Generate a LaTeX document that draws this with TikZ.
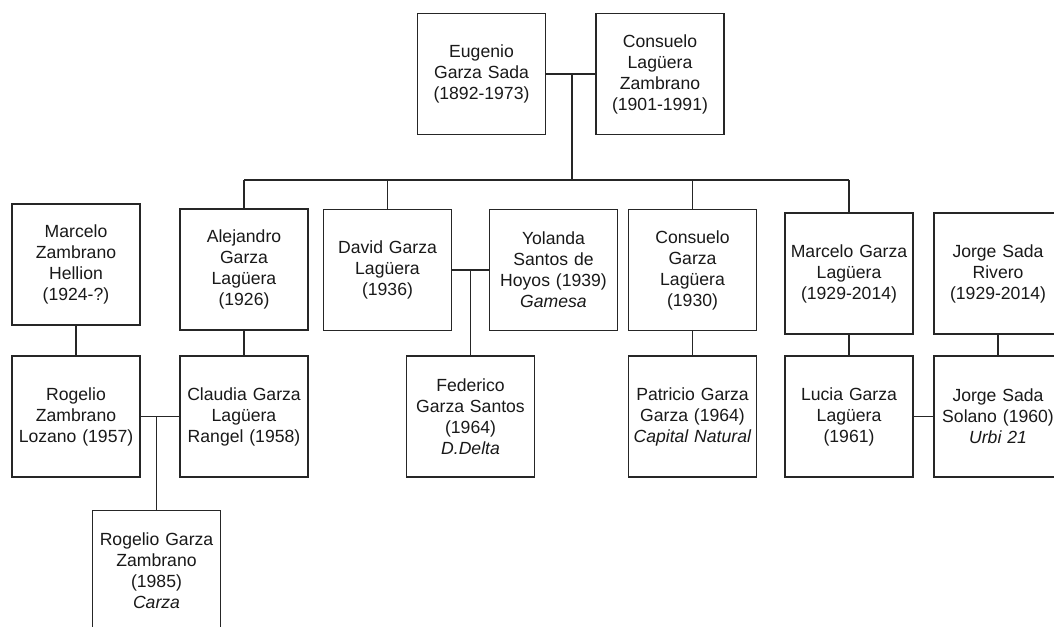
\documentclass[tikz,border=0pt]{standalone}
\usepackage{fontspec}
\setmainfont{Liberation Sans}
\begin{document}
\begin{tikzpicture}[x=1pt,y=-1pt]
\tikzset{
  person/.style={draw=black!85, line width=1.7pt, minimum width=128pt, minimum height=121pt,
    text width=126pt, align=center, inner sep=0pt, text=black!90,
    font=\fontsize{17.6}{21}\selectfont},
  link/.style={draw=black!85, line width=1.7pt}
}
\clip (0,0) rectangle (1054,626);
\fill[white] (0,0) rectangle (1054,626);
% generation 1
\node[person] (eug) at (481.5,74) {Eugenio\\Garza Sada\\(1892-1973)};
\node[person] (cons) at (660,74) {Consuelo\\Lagüera\\Zambrano\\(1901-1991)};
% generation 2
\node[person] (mzh) at (76,264.5) {Marcelo\\Zambrano\\Hellion\\(1924-?)};
\node[person] (alej) at (244,269.5) {Alejandro\\Garza\\Lagüera\\(1926)};
\node[person] (david) at (387.5,270) {David Garza\\Lagüera\\(1936)};
\node[person] (yol) at (553.5,270) {Yolanda\\Santos de\\Hoyos (1939)\\\textit{Gamesa}};
\node[person] (consg) at (692.5,270) {Consuelo\\Garza\\Lagüera\\(1930)};
\node[person] (marg) at (849,273.5) {Marcelo Garza\\Lagüera\\(1929-2014)};
\node[person] (jsr) at (998,273.5) {Jorge Sada\\Rivero\\(1929-2014)};
% generation 3
\node[person] (rzl) at (76,416.5) {Rogelio\\Zambrano\\Lozano (1957)};
\node[person] (clau) at (244,416.5) {Claudia Garza\\Lagüera\\Rangel (1958)};
\node[person] (fed) at (470.5,416.5) {Federico\\Garza Santos\\(1964)\\\textit{D.Delta}};
\node[person] (pat) at (692.5,416.5) {Patricio Garza\\Garza (1964)\\\textit{Capital Natural}};
\node[person] (luc) at (849,416.5) {Lucia Garza\\Lagüera\\(1961)};
\node[person] (jss) at (998,416.5) {Jorge Sada\\Solano (1960)\\\textit{Urbi 21}};
% generation 4
\node[person] (rgz) at (156.5,571) {Rogelio Garza\\Zambrano\\(1985)\\\textit{Carza}};
% connectors
\coordinate (j1) at (572,74);
\coordinate (bar) at (572,180);
\draw[link] (eug.east) -- (cons.west);
\draw[link] (j1) -- (bar);
\draw[link] (alej.north |- bar) -- (marg.north |- bar);
\draw[link] (alej.north |- bar) -- (alej.north);
\draw[link] (david.north |- bar) -- (david.north);
\draw[link] (consg.north |- bar) -- (consg.north);
\draw[link] (marg.north |- bar) -- (marg.north);
\draw[link] (mzh.south) -- (rzl.north);
\draw[link] (alej.south) -- (clau.north);
\draw[link] (consg.south) -- (pat.north);
\draw[link] (marg.south) -- (luc.north);
\draw[link] (jsr.south) -- (jss.north);
\draw[link] (david.east) -- (yol.west);
\coordinate (j2) at (fed.north |- david.east);
\draw[link] (j2) -- (fed.north);
\draw[link] (rzl.east) -- (clau.west);
\coordinate (j3) at (rgz.north |- rzl.east);
\draw[link] (j3) -- (rgz.north);
\draw[link] (luc.east) -- (jss.west);
\end{tikzpicture}
\end{document}
